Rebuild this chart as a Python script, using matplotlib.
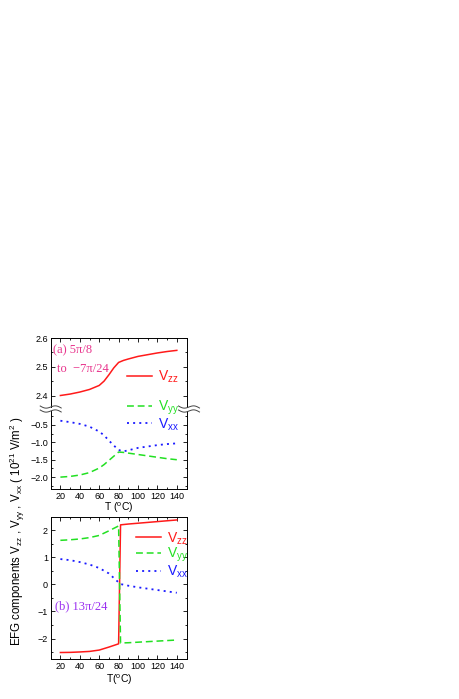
import numpy as np
import matplotlib.pyplot as plt
from matplotlib.ticker import MultipleLocator
from matplotlib.lines import Line2D

plt.rcParams['font.family'] = 'Liberation Sans'
plt.rcParams['mathtext.fontset'] = 'custom'
plt.rcParams['mathtext.rm'] = 'Liberation Sans'
plt.rcParams['mathtext.it'] = 'Liberation Sans'

# --- panel (a): 5pi/8 to -7pi/24 ---
T_a = [20, 30, 40, 50, 60, 65, 70, 75, 80, 85, 90, 100, 110, 120, 130, 140]
vzz_a = [2.400, 2.405, 2.412, 2.421, 2.435, 2.450, 2.472, 2.496, 2.515, 2.522,
         2.527, 2.536, 2.542, 2.548, 2.553, 2.557]
vyy_a = [-2.00, -1.98, -1.94, -1.87, -1.74, -1.64, -1.52, -1.40, -1.28, -1.29,
         -1.31, -1.35, -1.39, -1.43, -1.47, -1.50]
vxx_a = [-0.38, -0.42, -0.47, -0.55, -0.69, -0.80, -0.95, -1.09, -1.22, -1.26,
         -1.23, -1.16, -1.12, -1.08, -1.05, -1.03]

# --- panel (b): 13pi/24 ---
T_b = [20, 30, 40, 50, 60, 70, 80, 82, 90, 100, 110, 120, 130, 140]
vzz_b = [-2.51, -2.505, -2.49, -2.47, -2.42, -2.31, -2.19, 2.19, 2.22, 2.25,
         2.28, 2.31, 2.34, 2.37]
vyy_b = [1.62, 1.64, 1.67, 1.72, 1.80, 1.97, 2.15, -2.16, -2.15, -2.13,
         -2.11, -2.09, -2.07, -2.05]
vxx_b = [0.93, 0.89, 0.82, 0.73, 0.60, 0.40, 0.07, 0.01, -0.05, -0.11,
         -0.16, -0.21, -0.26, -0.31]

labels = ['V$_{zz}$', 'V$_{yy}$', 'V$_{xx}$']
c_zz, c_yy, c_xx = '#ff1a1a', '#22e022', '#1a1aff'

W, H = 459, 699
fig = plt.figure(figsize=(W / 100, H / 100), dpi=100)


def fpos(left, top, right, bottom):
    # pixel box -> figure fraction
    return [left / W, 1 - bottom / H, (right - left) / W, (bottom - top) / H]


ax_top = fig.add_axes(fpos(50.7, 338, 187, 407))
ax_bot = fig.add_axes(fpos(50.7, 411, 187, 489.3))
ax_b = fig.add_axes(fpos(50.7, 516.7, 187, 659.3))

lw = 1.1
dash = (4.5, 2.5)
dot = (1.1, 2.3)
l_zz, = ax_top.plot(T_a, vzz_a, '-', color=c_zz, lw=lw)
l_yy, = ax_bot.plot(T_a, vyy_a, '--', color=c_yy, lw=lw, dashes=dash)
l_xx, = ax_bot.plot(T_a, vxx_a, ':', color=c_xx, lw=lw + 0.2, dashes=dot)

m_zz, = ax_b.plot(T_b, vzz_b, '-', color=c_zz, lw=lw)
m_yy, = ax_b.plot(T_b, vyy_b, '--', color=c_yy, lw=lw, dashes=dash)
m_xx, = ax_b.plot(T_b, vxx_b, ':', color=c_xx, lw=lw + 0.2, dashes=dot)

ax_top.set_ylim(2.36, 2.6)
ax_bot.set_ylim(-2.35, -0.1)
ax_b.set_ylim(-2.76, 2.49)
for ax in (ax_top, ax_bot, ax_b):
    ax.set_xlim(10, 150.5)
    ax.xaxis.set_major_locator(MultipleLocator(20))
    ax.xaxis.set_minor_locator(MultipleLocator(10))
    ax.tick_params(which='both', direction='in', top=True, right=True,
                   labelsize=6.5, pad=2, width=0.6)
    ax.tick_params(which='major', length=3)
    ax.tick_params(which='minor', length=1.6)
    for s in ax.spines.values():
        s.set_linewidth(0.7)

ax_top.yaxis.set_minor_locator(MultipleLocator(0.05))
ax_top.set_yticks([2.4, 2.5, 2.6])
ax_top.spines['bottom'].set_visible(False)
ax_top.tick_params(which='both', bottom=False, labelbottom=False)

ax_bot.set_yticks([-2.0, -1.5, -1.0, -0.5])
ax_bot.yaxis.set_minor_locator(MultipleLocator(0.25))
ax_bot.spines['top'].set_visible(False)
ax_bot.tick_params(which='both', top=False)
ax_bot.set_xlabel('T ($^{\\rm o}$C)', fontsize=7.5, labelpad=0)

ax_b.yaxis.set_major_locator(MultipleLocator(1))
ax_b.yaxis.set_minor_locator(MultipleLocator(0.5))
ax_b.set_xlabel('T($^{\\rm o}$C)', fontsize=7.5, labelpad=1)

# break marks on both sides of panel (a)
for xc in (50.7, 189):
    t = np.linspace(-1, 1, 30)
    for yc in (407, 411):
        xs = xc + 10.5 * t
        ys = yc - 1.6 * np.sin(np.pi * t) + 1.0 * t
        fig.add_artist(Line2D(xs / W, 1 - ys / H, color='#444444', lw=0.7))

# legends
leg_kw = dict(frameon=False, fontsize=10, handlelength=1.8, handletextpad=0.4,
              borderpad=0, borderaxespad=0, loc='center left', labelcolor='linecolor')
ax_top.legend([l_zz], labels[:1], bbox_to_anchor=(0.56, 0.44), **leg_kw)
ax_bot.legend([l_yy, l_xx], labels[1:], bbox_to_anchor=(0.56, 0.94),
              labelspacing=-0.05, **leg_kw)
ax_b.legend([m_zz, m_yy, m_xx], labels, bbox_to_anchor=(0.626, 0.731),
            labelspacing=-0.05, **leg_kw)

# panel captions
ax_top.text(0.02, 0.82, '(a) 5\u03c0/8', transform=ax_top.transAxes,
            family='Liberation Serif', fontsize=9, color='#e8348c', va='center')
ax_top.text(0.045, 0.55, 'to  \u22127\u03c0/24', transform=ax_top.transAxes,
            family='Liberation Serif', fontsize=9, color='#e8348c', va='center')
ax_b.text(0.035, 0.374, '(b) 13\u03c0/24', transform=ax_b.transAxes,
          family='Liberation Serif', fontsize=9, color='#9b30f0', va='center')

fig.text(17 / W, 1 - 531 / H,
         'EFG components V$_{zz}$ , V$_{yy}$ , V$_{xx}$ ( 10$^{21}$ V/m$^{2}$ )',
         rotation=90, ha='center', va='center', fontsize=8.3)

fig.savefig('out.png', dpi=100)
